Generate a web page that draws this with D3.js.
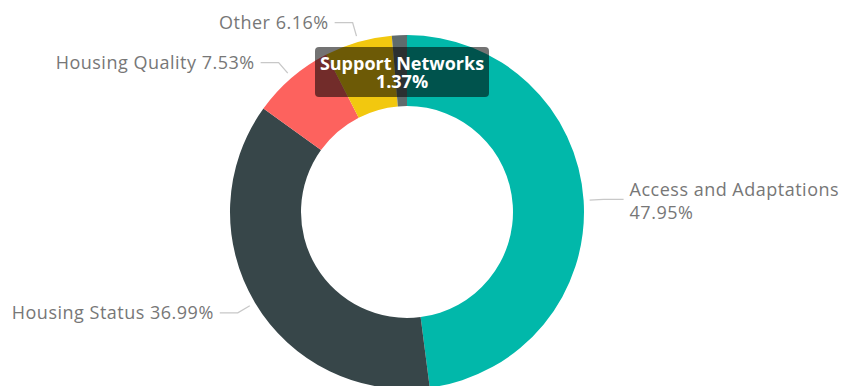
<!DOCTYPE html>
<html>
<head>
<meta charset="utf-8">
<script src="https://cdn.jsdelivr.net/npm/d3@7"></script>
<style>
  html, body { margin: 0; padding: 0; background: #ffffff; }
  svg { display: block; }
</style>
</head>
<body>
<svg id="chart" width="844" height="386"></svg>
<script>
// Share of issues by category (percent)
const categories = ["Access and Adaptations", "Housing Status", "Housing Quality", "Other", "Support Networks"];
const shares = [47.95, 36.99, 7.53, 6.16, 1.37];
const colors = ["#01B8AA", "#374649", "#FD625E", "#F2C80F", "#5F6B6D"];
// Categories whose label sits outside the ring; the last one is shown as a hover card
const outsideLabels = [true, true, true, true, false];

const W = 844, H = 386;
const cx = 407, cy = 212;
const rOuter = 177, rInner = 106;
const fontFamily = "'Open Sans', Roboto, 'DejaVu Sans', sans-serif";

const svg = d3.select("#chart");
const g = svg.append("g").attr("transform", `translate(${cx},${cy})`);

const data = categories.map((c, i) => ({ name: c, value: shares[i], color: colors[i], outside: outsideLabels[i] }));

const pie = d3.pie().value(d => d.value).sort(null);
const arcs = pie(data);

const arc = d3.arc().innerRadius(rInner).outerRadius(rOuter);

g.selectAll("path.slice")
  .data(arcs)
  .join("path")
  .attr("class", "slice")
  .attr("d", arc)
  .attr("fill", d => d.data.color);

const fmt = v => v.toFixed(2) + "%";
const polar = (a, r) => [Math.sin(a) * r, -Math.cos(a) * r];

// Leader lines and outside labels
const labelled = arcs.filter(d => d.data.outside);
labelled.forEach(d => {
  const mid = (d.startAngle + d.endAngle) / 2;
  const p0 = polar(mid, rOuter + 6);
  const p1 = polar(mid, rOuter + 20);
  const right = p1[0] >= 0;
  const p2 = [p1[0] + (right ? 20 : -18), p1[1]];
  g.append("polyline")
    .attr("points", [p0, p1, p2].map(p => p.join(",")).join(" "))
    .attr("fill", "none")
    .attr("stroke", "#c8c8c8")
    .attr("stroke-width", 1.3);

  const tx = p2[0] + (right ? 6 : -6);
  const t = g.append("text")
    .attr("x", tx)
    .attr("y", p2[1])
    .attr("text-anchor", right ? "start" : "end")
    .attr("fill", "#777777")
    .style("font-family", fontFamily)
    .style("font-size", "18px")
    .style("letter-spacing", "0.5px");
  if (right) {
    t.append("tspan").attr("x", tx).attr("dy", "-3").text(d.data.name);
    t.append("tspan").attr("x", tx).attr("dy", "23").text(fmt(d.data.value));
  } else {
    t.attr("dy", "6").text(`${d.data.name} ${fmt(d.data.value)}`);
  }
});

// Hover card for the smallest slice
arcs.filter(d => !d.data.outside).forEach(d => {
  const card = svg.append("g");
  const bx = 315, by = 47, bw = 174, bh = 50;
  card.append("rect")
    .attr("x", bx).attr("y", by).attr("width", bw).attr("height", bh)
    .attr("rx", 4).attr("ry", 4)
    .attr("fill", "#000000")
    .attr("fill-opacity", 0.55);
  card.append("text")
    .attr("x", bx + bw / 2).attr("y", by + 23)
    .attr("text-anchor", "middle")
    .attr("fill", "#ffffff")
    .style("font-family", fontFamily)
    .style("font-weight", "bold")
    .style("font-size", "18px")
    .text(d.data.name);
  card.append("text")
    .attr("x", bx + bw / 2).attr("y", by + 41)
    .attr("text-anchor", "middle")
    .attr("fill", "#ffffff")
    .style("font-family", fontFamily)
    .style("font-weight", "bold")
    .style("font-size", "18px")
    .text(fmt(d.data.value));
});
</script>
</body>
</html>
